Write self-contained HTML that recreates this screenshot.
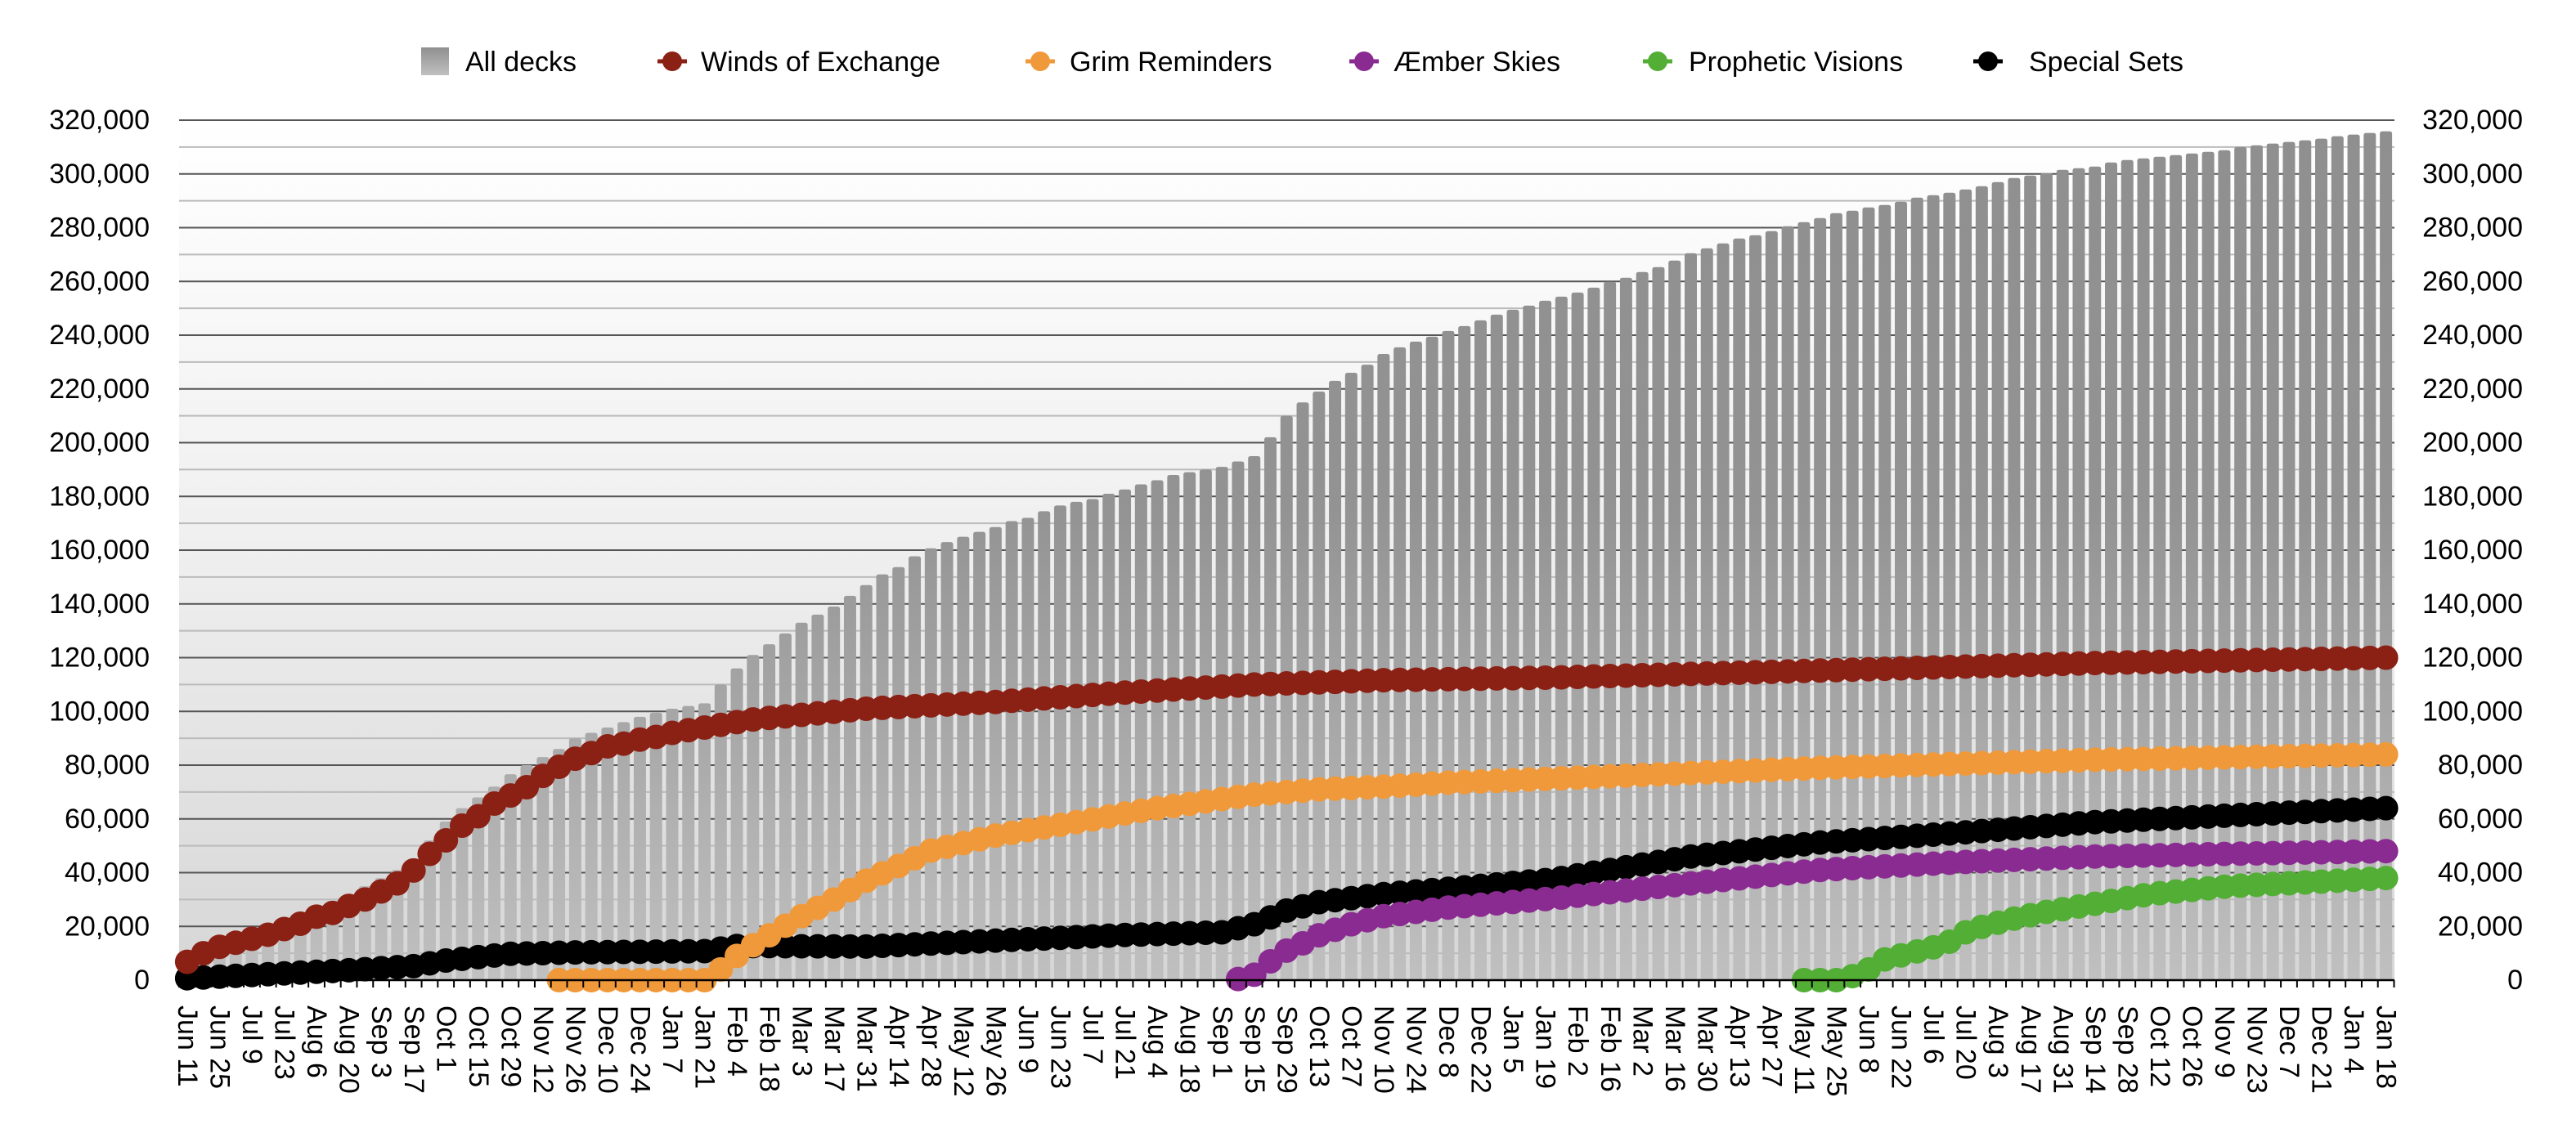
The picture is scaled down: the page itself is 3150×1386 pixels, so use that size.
<!DOCTYPE html>
<html><head><meta charset="utf-8"><style>
html,body{margin:0;padding:0;background:#fff;}
svg{display:block;font-family:"Liberation Sans",Arial,sans-serif;}
</style></head><body>
<svg id="c" width="3150" height="1386" viewBox="0 0 3150 1386" xmlns="http://www.w3.org/2000/svg">
<defs>
<linearGradient id="bg" x1="0" y1="147" x2="0" y2="1199" gradientUnits="userSpaceOnUse">
<stop offset="0" stop-color="#ffffff"/><stop offset="0.5" stop-color="#efefef"/><stop offset="1" stop-color="#d6d6d6"/></linearGradient>
<linearGradient id="bar" x1="0" y1="147" x2="0" y2="1199" gradientUnits="userSpaceOnUse">
<stop offset="0" stop-color="#8f8f8f"/><stop offset="0.45" stop-color="#939393"/><stop offset="1" stop-color="#c0c0c0"/></linearGradient>
<linearGradient id="lg" x1="0" y1="0" x2="0" y2="1"><stop offset="0" stop-color="#8f8f8f"/><stop offset="1" stop-color="#c0c0c0"/></linearGradient>
</defs>
<rect x="219" y="147" width="2709" height="1052" fill="url(#bg)"/>
<g id="grid"></g>
<g id="bars"></g>
<g id="series"></g>
<g id="axis"></g>
<!-- legend -->
<g font-size="34" fill="#000">
<rect x="515" y="58" width="34" height="34" fill="url(#lg)"/>
<text x="569" y="87">All decks</text>
<line x1="804" y1="75" x2="840" y2="75" stroke="#8B2014" stroke-width="5"/><circle cx="822" cy="75" r="12" fill="#8B2014"/>
<text x="857" y="87">Winds of Exchange</text>
<line x1="1254" y1="75" x2="1290" y2="75" stroke="#F0993A" stroke-width="5"/><circle cx="1272" cy="75" r="12" fill="#F0993A"/>
<text x="1308" y="87">Grim Reminders</text>
<line x1="1650" y1="75" x2="1686" y2="75" stroke="#8A2B91" stroke-width="5"/><circle cx="1668" cy="75" r="12" fill="#8A2B91"/>
<text x="1704" y="87">Æmber Skies</text>
<line x1="2009" y1="75" x2="2045" y2="75" stroke="#52AE35" stroke-width="5"/><circle cx="2027" cy="75" r="12" fill="#52AE35"/>
<text x="2065" y="87">Prophetic Visions</text>
<line x1="2413" y1="75" x2="2449" y2="75" stroke="#000" stroke-width="5"/><circle cx="2431" cy="75" r="12" fill="#000"/>
<text x="2481" y="87">Special Sets</text>
</g>
<!-- y labels -->
<g font-size="34" text-anchor="end" dominant-baseline="central">
<text x="183" y="1199">0</text><text x="183" y="1133.3">20,000</text><text x="183" y="1067.5">40,000</text><text x="183" y="1001.8">60,000</text><text x="183" y="936">80,000</text><text x="183" y="870.3">100,000</text><text x="183" y="804.5">120,000</text><text x="183" y="738.8">140,000</text><text x="183" y="673">160,000</text><text x="183" y="607.3">180,000</text><text x="183" y="541.5">200,000</text><text x="183" y="475.8">220,000</text><text x="183" y="410">240,000</text><text x="183" y="344.3">260,000</text><text x="183" y="278.5">280,000</text><text x="183" y="212.8">300,000</text><text x="183" y="147">320,000</text>
<text x="3085" y="1199">0</text><text x="3085" y="1133.3">20,000</text><text x="3085" y="1067.5">40,000</text><text x="3085" y="1001.8">60,000</text><text x="3085" y="936">80,000</text><text x="3085" y="870.3">100,000</text><text x="3085" y="804.5">120,000</text><text x="3085" y="738.8">140,000</text><text x="3085" y="673">160,000</text><text x="3085" y="607.3">180,000</text><text x="3085" y="541.5">200,000</text><text x="3085" y="475.8">220,000</text><text x="3085" y="410">240,000</text><text x="3085" y="344.3">260,000</text><text x="3085" y="278.5">280,000</text><text x="3085" y="212.8">300,000</text><text x="3085" y="147">320,000</text>
</g>
<!-- x labels -->
<g font-size="34" dominant-baseline="central">
<text transform="translate(229.0,1230) rotate(90)">Jun 11</text>
<text transform="translate(268.5,1230) rotate(90)">Jun 25</text>
<text transform="translate(308.1,1230) rotate(90)">Jul 9</text>
<text transform="translate(347.6,1230) rotate(90)">Jul 23</text>
<text transform="translate(387.2,1230) rotate(90)">Aug 6</text>
<text transform="translate(426.7,1230) rotate(90)">Aug 20</text>
<text transform="translate(466.2,1230) rotate(90)">Sep 3</text>
<text transform="translate(505.8,1230) rotate(90)">Sep 17</text>
<text transform="translate(545.3,1230) rotate(90)">Oct 1</text>
<text transform="translate(584.9,1230) rotate(90)">Oct 15</text>
<text transform="translate(624.4,1230) rotate(90)">Oct 29</text>
<text transform="translate(663.9,1230) rotate(90)">Nov 12</text>
<text transform="translate(703.5,1230) rotate(90)">Nov 26</text>
<text transform="translate(743.0,1230) rotate(90)">Dec 10</text>
<text transform="translate(782.6,1230) rotate(90)">Dec 24</text>
<text transform="translate(822.1,1230) rotate(90)">Jan 7</text>
<text transform="translate(861.6,1230) rotate(90)">Jan 21</text>
<text transform="translate(901.2,1230) rotate(90)">Feb 4</text>
<text transform="translate(940.7,1230) rotate(90)">Feb 18</text>
<text transform="translate(980.3,1230) rotate(90)">Mar 3</text>
<text transform="translate(1019.8,1230) rotate(90)">Mar 17</text>
<text transform="translate(1059.3,1230) rotate(90)">Mar 31</text>
<text transform="translate(1098.9,1230) rotate(90)">Apr 14</text>
<text transform="translate(1138.4,1230) rotate(90)">Apr 28</text>
<text transform="translate(1178.0,1230) rotate(90)">May 12</text>
<text transform="translate(1217.5,1230) rotate(90)">May 26</text>
<text transform="translate(1257.0,1230) rotate(90)">Jun 9</text>
<text transform="translate(1296.6,1230) rotate(90)">Jun 23</text>
<text transform="translate(1336.1,1230) rotate(90)">Jul 7</text>
<text transform="translate(1375.7,1230) rotate(90)">Jul 21</text>
<text transform="translate(1415.2,1230) rotate(90)">Aug 4</text>
<text transform="translate(1454.7,1230) rotate(90)">Aug 18</text>
<text transform="translate(1494.3,1230) rotate(90)">Sep 1</text>
<text transform="translate(1533.8,1230) rotate(90)">Sep 15</text>
<text transform="translate(1573.4,1230) rotate(90)">Sep 29</text>
<text transform="translate(1612.9,1230) rotate(90)">Oct 13</text>
<text transform="translate(1652.4,1230) rotate(90)">Oct 27</text>
<text transform="translate(1692.0,1230) rotate(90)">Nov 10</text>
<text transform="translate(1731.5,1230) rotate(90)">Nov 24</text>
<text transform="translate(1771.1,1230) rotate(90)">Dec 8</text>
<text transform="translate(1810.6,1230) rotate(90)">Dec 22</text>
<text transform="translate(1850.1,1230) rotate(90)">Jan 5</text>
<text transform="translate(1889.7,1230) rotate(90)">Jan 19</text>
<text transform="translate(1929.2,1230) rotate(90)">Feb 2</text>
<text transform="translate(1968.8,1230) rotate(90)">Feb 16</text>
<text transform="translate(2008.3,1230) rotate(90)">Mar 2</text>
<text transform="translate(2047.8,1230) rotate(90)">Mar 16</text>
<text transform="translate(2087.4,1230) rotate(90)">Mar 30</text>
<text transform="translate(2126.9,1230) rotate(90)">Apr 13</text>
<text transform="translate(2166.5,1230) rotate(90)">Apr 27</text>
<text transform="translate(2206.0,1230) rotate(90)">May 11</text>
<text transform="translate(2245.5,1230) rotate(90)">May 25</text>
<text transform="translate(2285.1,1230) rotate(90)">Jun 8</text>
<text transform="translate(2324.6,1230) rotate(90)">Jun 22</text>
<text transform="translate(2364.2,1230) rotate(90)">Jul 6</text>
<text transform="translate(2403.7,1230) rotate(90)">Jul 20</text>
<text transform="translate(2443.2,1230) rotate(90)">Aug 3</text>
<text transform="translate(2482.8,1230) rotate(90)">Aug 17</text>
<text transform="translate(2522.3,1230) rotate(90)">Aug 31</text>
<text transform="translate(2561.9,1230) rotate(90)">Sep 14</text>
<text transform="translate(2601.4,1230) rotate(90)">Sep 28</text>
<text transform="translate(2640.9,1230) rotate(90)">Oct 12</text>
<text transform="translate(2680.5,1230) rotate(90)">Oct 26</text>
<text transform="translate(2720.0,1230) rotate(90)">Nov 9</text>
<text transform="translate(2759.6,1230) rotate(90)">Nov 23</text>
<text transform="translate(2799.1,1230) rotate(90)">Dec 7</text>
<text transform="translate(2838.6,1230) rotate(90)">Dec 21</text>
<text transform="translate(2878.2,1230) rotate(90)">Jan 4</text>
<text transform="translate(2917.7,1230) rotate(90)">Jan 18</text>
</g>
</svg>
<script>
(function(){
var NS="http://www.w3.org/2000/svg";
function el(t,a,p){var e=document.createElementNS(NS,t);for(var k in a)e.setAttribute(k,a[k]);p.appendChild(e);return e;}
var L=219,R=2928,Y0=1199,S=19.77;
function Y(v){return Y0-v/20000*65.75;}
function X(i){return L+S*(i+0.5);}
var g=document.getElementById('grid');
for(var v=10000;v<=320000;v+=10000){var maj=(v%20000==0);
el('line',{x1:L,x2:R,y1:Y(v),y2:Y(v),stroke:maj?'#555':'#bbb','stroke-width':2},g);}
// all decks
var A=[7,10.5,13,15,17,19,21.5,24,27,29.5,32,35,38,41,45,52,59,64,68,72,76.6,80,83,86,90,92,94,96,98,99.5,101,102,103,110,116,121,125,129,133,136,139,143,147,151,153.7,157.7,160.7,163,165,166.8,168.6,170.8,172,174.5,176.6,178,179,181,182.6,184.5,186,188,189,190,191,193,195,202,210,215,219,223,226,229,233];
var P=[855,834,816,795,777,756,735,717,702,684,669,654,636,615,600,579,561,537,510,492,474,456,444,429,411,396,381,363,354,342,333,321,306,297,288,276,264,249,234,225,216,204,198,192,177,168,162,156,150,144,138,132,120,114,108,102,96,90,81,75,69,63];
A=A.map(function(a){return a*1000;});
P.forEach(function(p){A.push(320000-(p-22)/3*304.4);});
var b=document.getElementById('bars');
for(var i=0;i<137;i++){var x=X(i)-7.5,y=Y(A[i]);
el('path',{d:'M'+x+','+Y0+'V'+(y+3)+'Q'+x+','+y+' '+(x+3)+','+y+'H'+(x+12)+'Q'+(x+15)+','+y+' '+(x+15)+','+(y+3)+'V'+Y0+'Z',fill:'url(#bar)'},b);}
function interp(kp,s,e){var out=[];for(var i=s;i<=e;i++){var v=kp[kp.length-1][1];
for(var j=0;j<kp.length-1;j++){if(i>=kp[j][0]&&i<=kp[j+1][0]){var t=(i-kp[j][0])/(kp[j+1][0]-kp[j][0]);v=kp[j][1]+t*(kp[j+1][1]-kp[j][1]);break;}}
if(i<kp[0][0])v=kp[0][1];out.push([i,v*1000]);}return out;}
var ser=[
['#000',0,[[0,0.7],[10,3.7],[14,5.2],[16,7.3],[20,9.8],[24,10.3],[32,10.8],[34,12.7],[42,12.5],[50,14.7],[58,16.8],[64,17.8],[66,20.8],[68,25.9],[70,29],[74,32],[78,34],[84.5,37.5],[93,46],[101,51.2],[110,55],[118,58.8],[126.4,61.3],[136,64]]],
['#52AE35',100,[[100,0],[102,0],[103,1.5],[104,4],[105,7.7],[106,9.2],[107,10.7],[108,12.2],[109,14.3],[110,17.8],[111,19.8],[113,22.9],[115,25.4],[118,28.4],[121.4,32],[126.4,35],[131.5,36.5],[136,38]]],
['#8A2B91',65,[[65,0.4],[66,2],[67,7],[68,11],[69,13.7],[70,16.7],[72,20.8],[74,23.8],[78,27],[84.5,30.4],[93,36],[101,41],[110,44],[118,46],[126.4,47],[136,48]]],
['#F0993A',23,[[23,0],[32,0],[33,4],[34,9],[35,13],[36,16.7],[38,23.8],[40,30],[42,37],[44,42.5],[46,48.2],[48,51],[50,53.8],[52,55.8],[54,57.8],[56,59.8],[58,62],[60,64],[62,65.6],[64,67.4],[66,69],[70,71],[74,72],[78,73.5],[84.5,75],[101,79],[118,82],[136,84]]],
['#8B2014',0,[[0,6.8],[1,10],[2,12.4],[3,13.9],[4,15.4],[5,16.9],[6,19],[7,21],[8,23.6],[9,25],[10,27.6],[11,30],[12,33],[13,36],[14,40.8],[15,47],[16,52],[17,57.5],[18,61],[19,65.7],[20,68.7],[21,71.8],[22,76],[23,79.4],[24,82.4],[25,84.5],[26,87],[27,88],[28,89.5],[29,90.5],[30,92],[31,93],[32,94],[33,95],[34,96],[35,97],[42,101],[50,103.5],[58,107],[66,110],[74,111.6],[84.5,112.6],[101,115.2],[118,118],[136,120]]]
];
var sg=document.getElementById('series');
ser.forEach(function(s){var pts=interp(s[2],s[1],136);
el('polyline',{points:pts.map(function(p){return X(p[0])+','+Y(p[1]);}).join(' '),fill:'none',stroke:s[0],'stroke-width':5},sg);
pts.forEach(function(p){el('circle',{cx:X(p[0]),cy:Y(p[1]),r:15,fill:s[0]},sg);});});
var ax=document.getElementById('axis');
el('line',{x1:L,x2:R,y1:Y0,y2:Y0,stroke:'#000','stroke-width':2.5},ax);
for(var i=0;i<=137;i++){var x=L+S*i;el('line',{x1:x,x2:x,y1:Y0,y2:Y0+9,stroke:'#000','stroke-width':2},ax);}
})();
</script>
</body></html>
